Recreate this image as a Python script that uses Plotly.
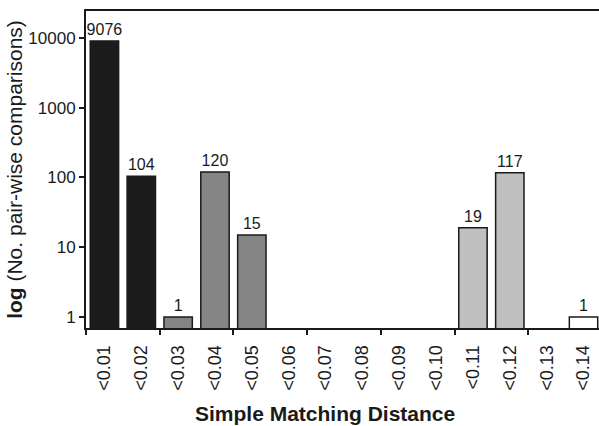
import plotly.graph_objects as go

categories = ["<0.01", "<0.02", "<0.03", "<0.04", "<0.05", "<0.06", "<0.07",
              "<0.08", "<0.09", "<0.10", "<0.11", "<0.12", "<0.13", "<0.14"]
counts = [9076, 104, 1, 120, 15, None, None, None, None, None, 19, 117, None, 1]
bar_colors = ["#1c1c1c", "#1c1c1c", "#858585", "#858585", "#858585", "#858585", "#858585",
              "#858585", "#858585", "#858585", "#c0c0c0", "#c0c0c0", "#c0c0c0", "#ffffff"]
y_tick_vals = [1, 10, 100, 1000, 10000]
y_tick_text = ["1", "10", "100", "1000", "10000"]
x_title = "Simple Matching Distance"
y_title = "<b>log</b> (No. pair-wise comparisons)"

positions = list(range(len(categories)))
labels = ["" if c is None else str(c) for c in counts]

font_family = "Liberation Sans, Arial, sans-serif"
ink = "#1a1a1a"

fig = go.Figure()
fig.add_trace(go.Bar(
    x=positions, y=counts,
    marker=dict(color=bar_colors, line=dict(color=ink, width=1.5)),
    text=labels, textposition="outside", cliponaxis=False, constraintext="none",
    textfont=dict(size=16, color=ink, family=font_family),
    showlegend=False,
))
# invisible trace to carry the boundary tick axis
fig.add_trace(go.Scatter(x=[positions[0]], y=[1], xaxis="x2", mode="markers",
                         marker=dict(opacity=0), showlegend=False, hoverinfo="skip"))

boundary_ticks = [p - 0.5 for p in positions[::2]]
xrange = [-0.5, 13.42]

fig.update_layout(
    width=599, height=426,
    margin=dict(l=86, r=0, t=11, b=98),
    paper_bgcolor="white", plot_bgcolor="white",
    bargap=0.23,
    font=dict(family=font_family, color=ink),
    xaxis=dict(
        range=xrange, tickvals=positions, ticktext=categories, automargin=False,
        tickangle=-90, ticks="", showgrid=False, zeroline=False, ticklabelstandoff=8,
        showline=True, linecolor=ink, linewidth=2, mirror=True,
        tickfont=dict(size=18, color=ink),
    ),
    xaxis2=dict(
        range=xrange, overlaying="x", anchor="y", side="bottom", automargin=False,
        tickvals=boundary_ticks, ticks="outside", ticklen=6, tickwidth=1.5, tickcolor=ink,
        showticklabels=False, showgrid=False, zeroline=False, showline=False,
    ),
    yaxis=dict(
        type="log", range=[-0.158, 4.387], automargin=False,
        tickvals=y_tick_vals, ticktext=y_tick_text,
        ticks="outside", ticklen=5, tickwidth=1.5, tickcolor=ink,
        showgrid=False, zeroline=False,
        showline=True, linecolor=ink, linewidth=2,
        tickfont=dict(size=17, color=ink),
        title=dict(text=y_title, font=dict(size=21, color=ink), standoff=0),
    ),
    annotations=[dict(
        text="<b>" + x_title + "</b>", xref="paper", yref="paper",
        x=0.465, y=0, xanchor="center", yanchor="middle", yshift=-85,
        showarrow=False, font=dict(size=21, color=ink),
    )],
)

fig.write_html(
    "out.html",
    config={"displayModeBar": False},
    post_script="document.body.style.margin='0';document.body.style.overflow='hidden';",
)
